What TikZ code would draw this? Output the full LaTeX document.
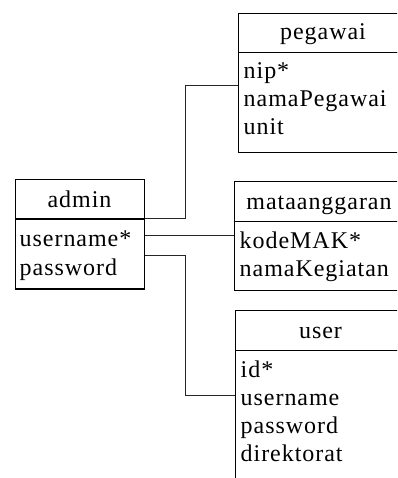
\documentclass[tikz,border=0pt]{standalone}
\usepackage{fontspec}
\setmainfont{Liberation Serif}[LetterSpace=4]
\usetikzlibrary{calc}
\begin{document}
\begin{tikzpicture}[x=1pt,y=-1pt,
  tbl/.style={draw, line width=1.3pt, inner sep=0pt, anchor=north west},
  hd/.style={anchor=base, font=\fontsize{24}{28}\selectfont, inner sep=0pt},
  fld/.style={anchor=base west, font=\fontsize{24}{28}\selectfont, inner sep=0pt},
  link/.style={line width=0.9pt, draw=black!85}]
\useasboundingbox (0,0) rectangle (397,478);
\clip (0,0) rectangle (397,478);

% admin
\node[tbl, minimum width=129pt, minimum height=39.3pt] (admh) at (15,179) {};
\node[tbl, minimum width=129pt, minimum height=70pt] (admb) at (15,218.3) {};
\node[hd] (admt) at (79.5,207) {admin};
\node[fld] (adm1) at (19.5,246.7) {username*};
\node[fld] (adm2) at (19.5,275) {password};

% pegawai
\node[tbl, minimum width=170pt, minimum height=38.7pt] (pegh) at (238,13) {};
\node[tbl, minimum width=170pt, minimum height=100pt] (pegb) at (238,51.7) {};
\node[hd] (pegt) at (323,40) {pegawai};
\node[fld] (peg1) at (243.5,78.3) {nip*};
\node[fld] (peg2) at (243.5,106.6) {namaPegawai};
\node[fld] (peg3) at (243.5,134.9) {unit};

% mataanggaran
\node[tbl, minimum width=170pt, minimum height=40pt] (math) at (234,181) {};
\node[tbl, minimum width=170pt, minimum height=68.5pt] (matb) at (234,221) {};
\node[hd] (matt) at (319,209) {mataanggaran};
\node[fld] (mat1) at (239.5,248.5) {kodeMAK*};
\node[fld] (mat2) at (239.5,276.8) {namaKegiatan};

% user
\node[tbl, minimum width=171pt, minimum height=40pt] (usrh) at (235,310) {};
\node[tbl, minimum width=171pt, minimum height=140pt] (usrb) at (235,350) {};
\node[hd] (usrt) at (320.5,338) {user};
\node[fld] (usr1) at (240.5,377) {id*};
\node[fld] (usr2) at (240.5,405.3) {username};
\node[fld] (usr3) at (240.5,433.6) {password};
\node[fld] (usr4) at (240.5,461.9) {direktorat};

% connectors
\coordinate (jx) at (185,0);
\coordinate (pegin) at ($(pegb.north west)+(0,33.3)$);
\coordinate (aout2) at ($(admb.north east)+(0,17.4)$);
\coordinate (aout3) at ($(admb.north east)+(0,36.7)$);
\coordinate (usrin) at ($(usrb.north west)+(0,45)$);
\draw[link] (admb.north east) -- (admb.north east -| jx) |- (pegin);
\draw[link] (aout2) -- (aout2 -| matb.west);
\draw[link] (aout3) -- (aout3 -| jx) |- (usrin);
\end{tikzpicture}
\end{document}
